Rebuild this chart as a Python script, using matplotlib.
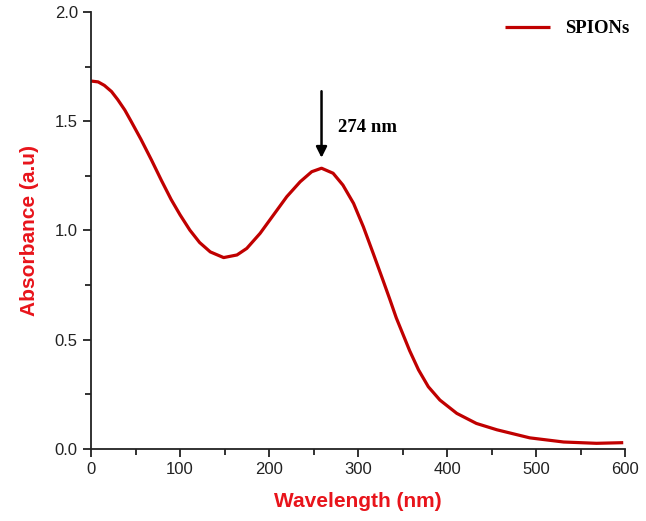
import numpy as np
import matplotlib
matplotlib.use('Agg')
import matplotlib.pyplot as plt
from matplotlib.ticker import MultipleLocator, FormatStrFormatter

wavelength = [0, 8, 15, 23, 30, 38, 45, 56, 68, 79, 90, 100, 111, 122, 134, 149, 164,
              175, 190, 205, 220, 235, 248, 259, 272, 283, 295, 306, 317, 328, 336,
              343, 351, 358, 368, 379, 392, 411, 433, 456, 471, 493, 531, 568, 598]
absorbance = [1.684, 1.680, 1.664, 1.636, 1.599, 1.551, 1.500, 1.418, 1.322, 1.230,
              1.142, 1.072, 1.002, 0.945, 0.902, 0.876, 0.888, 0.918, 0.987, 1.071,
              1.155, 1.223, 1.269, 1.285, 1.262, 1.208, 1.124, 1.017, 0.896, 0.773,
              0.682, 0.600, 0.520, 0.450, 0.362, 0.285, 0.224, 0.163, 0.117, 0.088,
              0.073, 0.051, 0.032, 0.026, 0.029]
peak_label = "274 nm"
peak_x = 259
series_name = "SPIONs"

RED = '#C00000'
LABEL_RED = '#E8141B'

fig = plt.figure(figsize=(6.46, 5.21), dpi=100)
ax = fig.add_axes([0.1409, 0.1382, 0.8266, 0.8388])

ax.plot(wavelength, absorbance, color=RED, linewidth=2.3, label=series_name,
        solid_joinstyle='round', solid_capstyle='butt')

ax.set_xlim(0, 600)
ax.set_ylim(0, 2.0)
ax.xaxis.set_major_locator(MultipleLocator(100))
ax.xaxis.set_minor_locator(MultipleLocator(50))
ax.yaxis.set_major_locator(MultipleLocator(0.5))
ax.yaxis.set_minor_locator(MultipleLocator(0.25))
ax.yaxis.set_major_formatter(FormatStrFormatter('%.1f'))

for side in ['top', 'right']:
    ax.spines[side].set_visible(False)
for side in ['left', 'bottom']:
    ax.spines[side].set_linewidth(1.3)
    ax.spines[side].set_color('#222222')

ax.tick_params(which='major', direction='out', length=6, width=1.3, color='#222222',
               labelsize=12, labelcolor='#222222')
ax.tick_params(which='minor', direction='out', length=4, width=1.3, color='#222222')
for lab in ax.get_xticklabels() + ax.get_yticklabels():
    lab.set_family('Liberation Sans')

ax.set_xlabel("Wavelength (nm)", fontsize=15, fontweight='bold', color=LABEL_RED,
              family='Liberation Sans', labelpad=11)
ax.set_ylabel("Absorbance (a.u)", fontsize=15, fontweight='bold', color=LABEL_RED,
              family='Liberation Sans', labelpad=11)

# Flèche vers le pic
ax.annotate("", xy=(peak_x, 1.32), xytext=(peak_x, 1.65),
            arrowprops=dict(arrowstyle='-|>', color='black', lw=1.8, mutation_scale=16))
ax.text(peak_x + 18, 1.47, peak_label, fontsize=13.5, fontweight='bold',
        family='Liberation Serif', va='center', ha='left')

leg = ax.legend(loc='upper right', frameon=False, bbox_to_anchor=(1.04, 1.02),
                handlelength=2.4, prop={'family': 'Liberation Serif', 'weight': 'bold', 'size': 13.5})

fig.savefig('out.png', dpi=100)
